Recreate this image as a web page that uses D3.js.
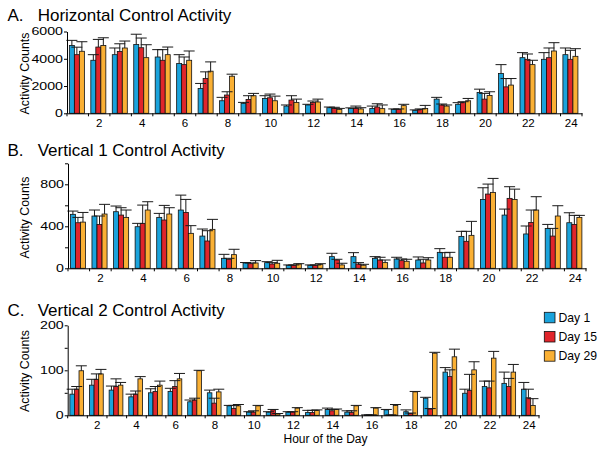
<!DOCTYPE html>
<html><head><meta charset="utf-8">
<script src="https://cdn.jsdelivr.net/npm/d3@7"></script>
<style>
body{margin:0;background:#fff}
text{font-family:"Liberation Sans",Arial,Helvetica,sans-serif;fill:#000}
</style>
</head><body>
<svg id="c" width="604" height="453"></svg>
<script>
const hours = d3.range(1, 25);
const xTickHours = [2,4,6,8,10,12,14,16,18,20,22,24];
const series = ["Day 1", "Day 15", "Day 29"];
const colors = ["#1aa3dc", "#e0252b", "#fab034"];

// Panel A: Horizontal Control Activity (mean, upper error)
const horizDay1 = [4980,3890,4300,5050,4130,3650,1820,920,730,1090,530,610,410,360,360,290,220,1040,660,1530,2920,4080,3960,4300];
const horizDay1Err = [370,410,490,750,540,650,370,250,70,200,80,50,50,40,170,30,30,130,120,240,650,370,490,490];
const horizDay15 = [4300,4860,4540,4810,3890,3570,2550,1340,1020,1140,970,800,360,360,460,290,290,610,780,1040,1940,3960,4080,3960];
const horizDay15Err = [550,560,560,710,780,560,490,240,270,270,320,100,80,170,240,30,30,70,70,420,610,390,710,660];
const horizDay29 = [4550,4980,4790,4080,4300,3890,3090,2720,1290,920,800,830,290,320,340,560,360,530,920,1310,2070,3570,4570,4180];
const horizDay29Err = [700,560,510,950,560,680,680,150,170,340,240,210,70,90,270,100,220,80,170,270,480,320,610,560];

// Panel B: Vertical 1 Control Activity
const vert1Day1 = [514,498,539,396,485,555,307,95,51,54,29,29,111,111,95,89,79,152,304,656,507,327,380,434];
const vert1Day1Err = [31,57,54,32,38,142,67,38,4,9,3,3,32,38,16,16,29,35,48,111,57,76,38,95];
const vert1Day15 = [434,418,507,428,460,532,260,86,44,41,29,29,79,41,79,73,51,105,257,707,666,437,307,418];
const vert1Day15Err = [51,80,70,174,139,124,98,9,7,13,3,3,7,13,26,16,35,44,95,95,111,118,73,86];
const vert1Day29 = [440,517,485,555,517,333,371,130,51,48,41,35,32,29,54,67,79,105,314,723,656,555,498,485];
const vert1Day29Err = [92,92,70,79,60,73,95,51,22,28,3,9,16,9,25,19,22,47,133,133,98,127,98,19];

// Panel C: Vertical 2 Control Activity
const vert2Day1 = [47,67,56,41,50,53,30,50,21,7,7,7,6,13,7,1,12,8,38,96,49,64,71,58];
const vert2Day1Err = [11,13,9,6,9,7,4,6,1,1,1,1,5,3,3,0,1,4,2,10,9,12,25,15];
const vert2Day15 = [58,80,64,47,53,64,34,27,15,7,12,7,6,10,6,1,1,4,14,86,55,61,64,39];
const vert2Day15Err = [6,12,17,7,11,13,4,11,7,3,1,1,5,3,4,0,0,1,1,15,36,15,18,19];
const vert2Day29 = [99,92,67,81,67,81,99,52,21,21,3,16,11,13,21,16,22,52,138,130,101,127,96,22];
const vert2Day29Err = [11,10,6,5,9,12,1,6,3,1,1,1,1,1,1,1,2,1,2,17,18,15,17,15];

const yTicksA = [0,2000,4000,6000], yLabelsA = [0,2000,4000,6000];
const yTicksB = [0,200,400,600,800,1000], yLabelsB = [0,400,800];
const yTicksC = [0,50,100,150,200], yLabelsC = [0,100,200];

const panels = [
  {letter:"A.", title:"Horizontal Control Activity", vals:[horizDay1,horizDay15,horizDay29], errs:[horizDay1Err,horizDay15Err,horizDay29Err],
   xr:[67,582], yr:[113.3,31.5], max:6000, ticks:yTicksA, labels:yLabelsA, titleY:20.7, ylabY:73.5},
  {letter:"B.", title:"Vertical 1 Control Activity", vals:[vert1Day1,vert1Day15,vert1Day29], errs:[vert1Day1Err,vert1Day15Err,vert1Day29Err],
   xr:[68,586], yr:[268.3,163.3], max:1000, ticks:yTicksB, labels:yLabelsB, titleY:155.7, ylabY:217.5},
  {letter:"C.", title:"Vertical 2 Control Activity", vals:[vert2Day1,vert2Day15,vert2Day29], errs:[vert2Day1Err,vert2Day15Err,vert2Day29Err],
   xr:[67.7,539], yr:[415.3,325.3], max:200, ticks:yTicksC, labels:yLabelsC, titleY:315.7, ylabY:371}
];

const svg = d3.select("#c");

panels.forEach(p => {
  const g = svg.append("g");
  const x0 = d3.scaleBand().domain(hours).range(p.xr).padding(0);
  const bw = x0.bandwidth();
  const x1 = d3.scaleBand().domain(series).range([bw*0.11, bw*0.81]).padding(0);
  const y = d3.scaleLinear().domain([0, p.max]).range(p.yr);

  // titles
  g.append("text").attr("x", 7.5).attr("y", p.titleY).attr("font-size", 17).text(p.letter);
  g.append("text").attr("x", 37.7).attr("y", p.titleY).attr("font-size", 17).text(p.title);

  // y label
  g.append("text").attr("transform", `translate(28.5,${p.ylabY}) rotate(-90)`)
    .attr("text-anchor", "middle").attr("font-size", 12.4).text("Activity Counts");

  // bars
  series.forEach((s, i) => {
    g.append("g").selectAll("rect").data(hours).join("rect")
      .attr("x", h => x0(h) + x1(s))
      .attr("width", x1.bandwidth())
      .attr("y", h => y(p.vals[i][h-1]))
      .attr("height", h => y(0) - y(p.vals[i][h-1]))
      .attr("fill", colors[i]).attr("stroke", "#111").attr("stroke-width", 0.8);
  });
  // error bars
  series.forEach((s, i) => {
    const eg = g.append("g").attr("stroke", "#1a1a1a").attr("stroke-width", 1);
    hours.forEach(h => {
      const v = p.vals[i][h-1], e = p.errs[i][h-1];
      const cx = x0(h) + x1(s) + x1.bandwidth()/2;
      eg.append("line").attr("x1", cx).attr("x2", cx).attr("y1", y(v)).attr("y2", y(v+e));
      eg.append("line").attr("x1", cx-5.5).attr("x2", cx+5.5).attr("y1", y(v+e)).attr("y2", y(v+e));
    });
  });

  // y axis
  const ya = g.append("g").attr("transform", `translate(${p.xr[0]},0)`)
    .call(d3.axisLeft(y).tickValues(p.ticks).tickSize(3).tickSizeOuter(0)
      .tickFormat(d => p.labels.includes(d) ? d : ""));
  ya.selectAll("text").attr("font-size", 10.5).attr("font-family", "Liberation Sans, Arial, sans-serif")
    .attr("transform", "scale(1.35,1)").attr("x", -3);
  ya.select(".domain").attr("stroke", "#000");

  // x axis
  const xa = g.append("g").attr("transform", `translate(0,${p.yr[0]})`)
    .call(d3.axisBottom(x0).tickValues(xTickHours).tickSize(0).tickSizeOuter(0).tickPadding(6));
  xa.selectAll("text").attr("font-size", 10.5).attr("font-family", "Liberation Sans, Arial, sans-serif")
    .attr("transform", "scale(1.1,1)").attr("x", 0);
  xa.selectAll(".tick").each(function(){
    const t = d3.select(this).select("text");
    // keep label centered on band after horizontal stretch
    t.attr("transform", "scale(1.1,1)");
  });
  xa.select(".domain").attr("stroke", "#000");
  g.append("g").selectAll("line").data(hours.concat([25])).join("line")
    .attr("x1", h => h <= 24 ? x0(h) : p.xr[1]).attr("x2", h => h <= 24 ? x0(h) : p.xr[1])
    .attr("y1", p.yr[0]).attr("y2", p.yr[0] + 3).attr("stroke", "#000");
});

svg.append("text").attr("x", 325.5).attr("y", 443).attr("text-anchor", "middle")
  .attr("font-size", 12).text("Hour of the Day");

// legend
const lg = svg.append("g");
series.forEach((s, i) => {
  const yy = 312.3 + i*19.2;
  lg.append("rect").attr("x", 544.3).attr("y", yy).attr("width", 10.7).attr("height", 10.5)
    .attr("fill", colors[i]).attr("stroke", "#111").attr("stroke-width", 0.8);
  lg.append("text").attr("x", 558.5).attr("y", yy + 9.6).attr("font-size", 12.2).text(s);
});
</script>
</body></html>
